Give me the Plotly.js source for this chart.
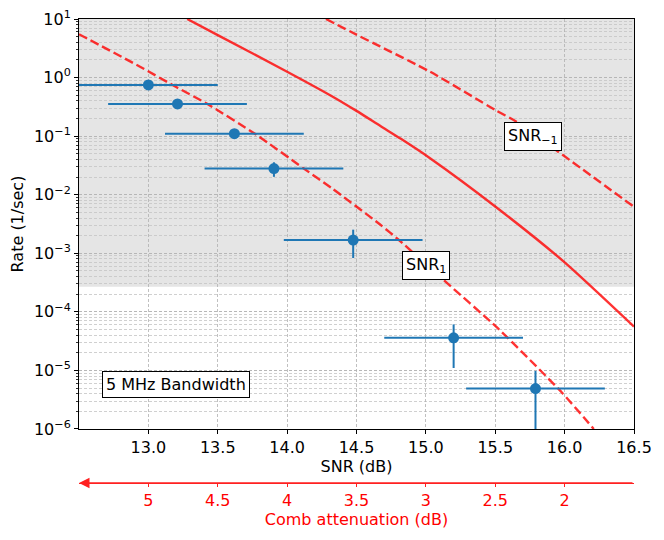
<!DOCTYPE html>
<html>
<head>
<meta charset="utf-8">
<script src="https://cdn.plot.ly/plotly-3.0.1.min.js"></script>
<style>html,body{margin:0;padding:0;background:#fff;}#chart{width:664px;height:540px;}</style>
</head>
<body>
<div id="chart"></div>
<script>
// ---- measured data points ----
var ptSNR   = [13.0, 13.21, 13.62, 13.905, 14.476, 15.2, 15.79];
var ptRate  = [0.75, 0.355, 0.11, 0.028, 0.00168, 0.000036, 0.0000049];
var ptXerr  = [0.5, 0.5, 0.5, 0.5, 0.5, 0.5, 0.5];
var ptYerr  = [0.03, 0.025, 0.012, 0.0078, 0.00085, 0.000025, 0.0000049];

// ---- model curves ----
var snr0X = [13.28, 13.5, 14.0, 14.31, 14.5, 14.67, 14.82, 15.03, 15.5, 16.0, 16.5];
var snr0Y = [10, 5.3, 1.26, 0.50, 0.27, 0.15, 0.09, 0.042, 0.0063, 0.0007, 0.000056];

var snrP1X = [12.5, 12.94, 13.2, 13.42, 13.78, 14.12, 14.32, 14.67, 14.81, 15.1, 15.52, 15.98, 16.21];
var snrP1Y = [5.5, 1.53, 0.69, 0.36, 0.105, 0.028, 0.013, 0.0031, 0.00165, 0.0004, 0.000052, 0.0000042, 0.000001];

var snrM1X = [14.28, 14.5, 14.67, 15.03, 15.5, 15.65, 15.92, 16.5];
var snrM1Y = [10, 5.4, 3.4, 1.26, 0.28, 0.178, 0.062, 0.0062];

// shaded band (rate range)
var bandLow = 0.000267;
var bandHigh = 10;

// ---- axis ticks ----
var xTickVals = [13.0, 13.5, 14.0, 14.5, 15.0, 15.5, 16.0, 16.5];
var xTickText = ['13.0', '13.5', '14.0', '14.5', '15.0', '15.5', '16.0', '16.5'];
var yTickVals = [1e-6, 1e-5, 1e-4, 1e-3, 1e-2, 1e-1, 1, 10];
var yTickText = ['10<sup>−6</sup>', '10<sup>−5</sup>', '10<sup>−4</sup>', '10<sup>−3</sup>',
                 '10<sup>−2</sup>', '10<sup>−1</sup>', '10<sup>0</sup>', '10<sup>1</sup>'];
var combTickVals = [13.0, 13.5, 14.0, 14.5, 15.0, 15.5, 16.0];
var combTickText = ['5', '4.5', '4', '3.5', '3', '2.5', '2'];
var xRange = [12.5, 16.5];

// ---- text labels ----
var labelText = ['SNR<sub>1</sub>', 'SNR<sub>−1</sub>', '5 MHz Bandwidth'];
var labelX = [15.0, 15.77, 13.2];
var labelY = [6.1e-4, 0.099, 5.8e-6];

var FONT = 'DejaVu Sans, sans-serif';
var RED = 'rgba(255,0,0,0.8)';
var BLUE = '#1f77b4';

var traces = [
  {x: snr0X, y: snr0Y, type: 'scatter', mode: 'lines', line: {color: RED, width: 2.4, shape: 'spline', smoothing: 0.6}, hoverinfo: 'skip'},
  {x: snrP1X, y: snrP1Y, type: 'scatter', mode: 'lines', line: {color: RED, width: 2.4, dash: '9px,4px', shape: 'spline', smoothing: 0.6}, hoverinfo: 'skip'},
  {x: snrM1X, y: snrM1Y, type: 'scatter', mode: 'lines', line: {color: RED, width: 2.4, dash: '9px,4px', shape: 'spline', smoothing: 0.6}, hoverinfo: 'skip'},
  {x: ptSNR, y: ptRate, type: 'scatter', mode: 'markers',
   marker: {color: BLUE, size: 11},
   error_x: {type: 'data', array: ptXerr, color: BLUE, thickness: 2, width: 0},
   error_y: {type: 'data', array: ptYerr, color: BLUE, thickness: 2, width: 0}},
  {x: [combTickVals[0]], y: [1], xaxis: 'x2', type: 'scatter', mode: 'markers', marker: {opacity: 0}, hoverinfo: 'skip'}
];

var annotations = [];
for (var i = 0; i < labelText.length; i++) {
  annotations.push({
    x: labelX[i], y: Math.log10(labelY[i]), xref: 'x', yref: 'y',
    text: labelText[i], showarrow: false,
    font: {family: FONT, size: 16, color: '#000'},
    bgcolor: '#fff', bordercolor: '#000', borderwidth: 1, borderpad: 3
  });
}
// red arrow along the comb-attenuation axis, pointing left
annotations.push({
  x: xRange[0], y: 0, xref: 'x', yref: 'paper',
  ax: xRange[1], ay: 0, axref: 'x', ayref: 'pixel',
  text: '', showarrow: true, arrowhead: 2, arrowsize: 1.4, arrowwidth: 1.5,
  arrowcolor: '#ff2020', standoff: 0, startstandoff: 0
});

var layout = {
  width: 664, height: 540,
  margin: {l: 79, r: 30, t: 19, b: 57},
  paper_bgcolor: '#fff', plot_bgcolor: '#fff',
  showlegend: false,
  font: {family: FONT, size: 16, color: '#000'},
  xaxis: {
    range: xRange, anchor: 'y',
    tickmode: 'array', tickvals: xTickVals, ticktext: xTickText,
    ticks: 'outside', ticklen: 4, tickwidth: 1, tickcolor: '#000',
    showline: true, linecolor: '#000', linewidth: 1, mirror: true,
    showgrid: true, gridcolor: '#b0b0b0', gridwidth: 0.8, griddash: '3px,2px',
    zeroline: false,
    tickfont: {family: FONT, size: 16},
    title: {text: 'SNR (dB)', font: {family: FONT, size: 16}, standoff: 4}
  },
  xaxis2: {
    range: xRange, overlaying: 'x', anchor: 'free', position: 0, side: 'bottom',
    tickmode: 'array', tickvals: combTickVals, ticktext: combTickText,
    ticks: 'outside', ticklen: 3, tickwidth: 1, tickcolor: '#ff2020',
    showline: true, linecolor: '#ff2020', linewidth: 1.2,
    showgrid: false, zeroline: false,
    tickfont: {family: FONT, size: 16, color: '#ff0000'},
    title: {text: 'Comb attenuation (dB)', font: {family: FONT, size: 16, color: '#ff0000'}, standoff: 2}
  },
  yaxis: {
    type: 'log', range: [-6, 1], domain: [0.1164, 1], anchor: 'x',
    tickmode: 'array', tickvals: yTickVals, ticktext: yTickText,
    ticks: 'outside', ticklen: 4, tickwidth: 1, tickcolor: '#000',
    showline: true, linecolor: '#000', linewidth: 1, mirror: true,
    showgrid: true, gridcolor: '#b0b0b0', gridwidth: 0.8, griddash: '3px,2px',
    zeroline: false,
    minor: {dtick: 'D1', ticks: 'outside', ticklen: 2, tickcolor: '#000', tickwidth: 0.8,
            showgrid: true, gridcolor: '#c4c4c4', gridwidth: 0.8, griddash: '3px,2px'},
    tickfont: {family: FONT, size: 16},
    title: {text: 'Rate (1/sec)', font: {family: FONT, size: 16}, standoff: 6}
  },
  shapes: [{
    type: 'rect', xref: 'x domain', yref: 'y', x0: 0, x1: 1,
    y0: bandLow, y1: bandHigh,
    fillcolor: '#e5e5e5', line: {width: 0}, layer: 'below'
  }],
  annotations: annotations
};

Plotly.newPlot('chart', traces, layout, {staticPlot: true, displayModeBar: false});
</script>
</body>
</html>
